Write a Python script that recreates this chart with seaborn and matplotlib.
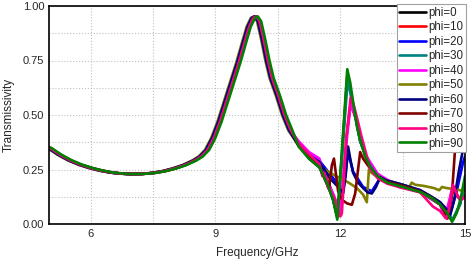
import numpy as np
import pandas as pd
import matplotlib
matplotlib.use("Agg")
import matplotlib.pyplot as plt
from matplotlib.ticker import MultipleLocator, FormatStrFormatter
import seaborn as sns

# Curvas de transmisividad para distintos angulos phi
phis = [0, 10, 20, 30, 40, 50, 60, 70, 80, 90]
colores = ["#000000", "#ff0000", "#0000ff", "#008080", "#ff00ff",
           "#808000", "#000080", "#800000", "#ff0080", "#008000"]

# tramo comun (5 - 10.8 GHz), todas las curvas casi iguales
freq_main = [5.0, 5.25, 5.5, 5.75, 6.0, 6.25, 6.5, 6.75, 7.0, 7.25, 7.5, 7.75,
             8.0, 8.25, 8.5, 8.65, 8.8, 8.95, 9.1, 9.25, 9.4, 9.55, 9.7, 9.8,
             9.9, 9.97, 10.05, 10.15, 10.25, 10.35, 10.5, 10.65, 10.8]
trans_main = [0.350, 0.318, 0.292, 0.272, 0.257, 0.245, 0.236, 0.231, 0.229,
              0.230, 0.234, 0.242, 0.254, 0.270, 0.292, 0.310, 0.340, 0.395,
              0.470, 0.560, 0.650, 0.740, 0.840, 0.905, 0.945, 0.952, 0.930,
              0.845, 0.750, 0.670, 0.590, 0.500, 0.430]
# desplazamiento del pico (GHz)
peak_offset = [0.0, 0.02, -0.02, 0.01, 0.0, -0.05, -0.03, 0.02, 0.01, 0.05]

# tramo de resonancias (>= 11 GHz), una lista por curva
freq_tail_0 = [11.0, 11.25, 11.5, 11.7, 11.83, 11.93, 12.05, 12.17, 12.31, 12.48, 12.72, 13.13, 13.92, 14.4, 14.6, 14.71, 14.88, 15.0]
trans_tail_0 = [0.36, 0.30, 0.26, 0.18, 0.11, 0.03, 0.34, 0.68, 0.55, 0.38, 0.26, 0.19, 0.147, 0.09, 0.04, 0.02, 0.09, 0.2]
freq_tail_10 = [11.0, 11.25, 11.5, 11.7, 11.9, 12.02, 12.15, 12.25, 12.4, 12.6, 12.9, 13.5, 13.92, 14.4, 14.55, 14.7, 14.85, 15.0]
trans_tail_10 = [0.37, 0.32, 0.28, 0.20, 0.10, 0.04, 0.40, 0.55, 0.47, 0.31, 0.22, 0.17, 0.15, 0.09, 0.03, 0.15, 0.12, 0.13]
freq_tail_20 = [11.0, 11.25, 11.5, 11.75, 12.0, 12.07, 12.19, 12.31, 12.55, 12.76, 12.96, 13.5, 13.92, 14.4, 14.64, 14.8, 14.95, 15.0]
trans_tail_20 = [0.37, 0.32, 0.29, 0.23, 0.17, 0.15, 0.33, 0.24, 0.17, 0.15, 0.21, 0.18, 0.155, 0.10, 0.04, 0.15, 0.28, 0.31]
freq_tail_30 = [11.0, 11.25, 11.5, 11.7, 11.85, 11.95, 12.07, 12.18, 12.31, 12.48, 12.72, 13.13, 13.92, 14.4, 14.6, 14.7, 14.88, 15.0]
trans_tail_30 = [0.36, 0.31, 0.27, 0.19, 0.12, 0.04, 0.38, 0.66, 0.54, 0.38, 0.26, 0.19, 0.15, 0.09, 0.04, 0.02, 0.09, 0.18]
freq_tail_40 = [11.0, 11.25, 11.5, 11.6, 11.7, 11.85, 12.0, 12.12, 12.25, 12.4, 12.6, 12.9, 13.44, 13.92, 14.4, 14.52, 14.7, 14.88, 15.0]
trans_tail_40 = [0.38, 0.33, 0.30, 0.24, 0.19, 0.13, 0.05, 0.32, 0.55, 0.48, 0.32, 0.23, 0.168, 0.155, 0.09, 0.03, 0.17, 0.11, 0.12]
freq_tail_50 = [11.0, 11.25, 11.5, 11.75, 12.0, 12.2, 12.4, 12.55, 12.64, 12.69, 12.75, 12.9, 13.1, 13.4, 13.66, 13.72, 13.8, 14.0, 14.25, 14.38, 14.45, 14.55, 14.75, 15.0]
trans_tail_50 = [0.36, 0.31, 0.265, 0.235, 0.21, 0.19, 0.165, 0.135, 0.10, 0.25, 0.235, 0.215, 0.20, 0.185, 0.17, 0.19, 0.18, 0.175, 0.165, 0.155, 0.17, 0.165, 0.16, 0.15]
freq_tail_60 = [11.0, 11.25, 11.5, 11.75, 12.0, 12.07, 12.13, 12.19, 12.25, 12.31, 12.43, 12.55, 12.66, 12.76, 12.86, 12.96, 13.1, 13.5, 13.92, 14.2, 14.4, 14.55, 14.64, 14.75, 14.85, 14.95, 15.0]
trans_tail_60 = [0.36, 0.31, 0.285, 0.21, 0.16, 0.14, 0.22, 0.355, 0.29, 0.235, 0.19, 0.165, 0.145, 0.14, 0.17, 0.215, 0.20, 0.18, 0.155, 0.125, 0.10, 0.07, 0.04, 0.12, 0.24, 0.34, 0.40]
freq_tail_70 = [11.0, 11.25, 11.5, 11.62, 11.73, 11.8, 11.85, 11.95, 12.05, 12.16, 12.28, 12.36, 12.48, 12.55, 12.7, 12.84, 13.0, 13.5, 13.92, 14.2, 14.4, 14.5, 14.58, 14.68, 14.76, 14.85, 14.95, 15.0]
trans_tail_70 = [0.36, 0.31, 0.27, 0.21, 0.16, 0.27, 0.30, 0.15, 0.11, 0.095, 0.088, 0.14, 0.33, 0.30, 0.26, 0.23, 0.20, 0.175, 0.15, 0.12, 0.09, 0.06, 0.025, 0.12, 0.34, 0.55, 0.75, 0.80]
freq_tail_80 = [11.0, 11.25, 11.5, 11.57, 11.62, 11.7, 11.85, 12.0, 12.04, 12.15, 12.25, 12.32, 12.4, 12.5, 12.72, 12.9, 13.13, 13.5, 13.92, 14.23, 14.4, 14.55, 14.63, 14.71, 14.8, 14.88, 15.0]
trans_tail_80 = [0.37, 0.32, 0.275, 0.22, 0.235, 0.17, 0.12, 0.035, 0.05, 0.40, 0.58, 0.55, 0.49, 0.41, 0.255, 0.21, 0.185, 0.165, 0.145, 0.08, 0.06, 0.025, 0.08, 0.18, 0.14, 0.11, 0.125]
freq_tail_90 = [11.0, 11.25, 11.5, 11.7, 11.83, 11.93, 12.05, 12.17, 12.24, 12.31, 12.4, 12.48, 12.6, 12.72, 12.9, 13.13, 13.5, 13.92, 14.2, 14.4, 14.57, 14.69, 14.8, 14.9, 15.0]
trans_tail_90 = [0.355, 0.30, 0.26, 0.18, 0.11, 0.02, 0.36, 0.71, 0.65, 0.56, 0.45, 0.385, 0.31, 0.265, 0.22, 0.19, 0.17, 0.147, 0.12, 0.09, 0.05, 0.01, 0.05, 0.12, 0.22]

freq_tails = [freq_tail_0, freq_tail_10, freq_tail_20, freq_tail_30, freq_tail_40,
              freq_tail_50, freq_tail_60, freq_tail_70, freq_tail_80, freq_tail_90]
trans_tails = [trans_tail_0, trans_tail_10, trans_tail_20, trans_tail_30, trans_tail_40,
               trans_tail_50, trans_tail_60, trans_tail_70, trans_tail_80, trans_tail_90]

filas = []
for phi, off, ft, tt in zip(phis, peak_offset, freq_tails, trans_tails):
    f = list(np.array(freq_main) + off) + ft
    t = trans_main + tt
    for fi, ti in zip(f, t):
        filas.append({"freq": fi, "trans": ti, "label": f"phi={phi}"})
df = pd.DataFrame(filas)

sns.set_style("white")
plt.rcParams["font.family"] = ["Liberation Sans", "DejaVu Sans"]

fig = plt.figure(figsize=(4.72, 2.59), dpi=100)
ax = fig.add_axes([49 / 472, 1 - 224 / 259, 416 / 472, 218 / 259])

sns.lineplot(data=df, x="freq", y="trans", hue="label", palette=colores,
             sort=False, estimator=None, lw=1.9, ax=ax, legend=False)

ax.set_xlim(5, 15)
ax.set_ylim(0, 1)
ax.xaxis.set_major_locator(MultipleLocator(3))
ax.xaxis.set_minor_locator(MultipleLocator(1.5))
ax.yaxis.set_major_locator(MultipleLocator(0.25))
ax.yaxis.set_minor_locator(MultipleLocator(0.125))
ax.yaxis.set_major_formatter(FormatStrFormatter("%.2f"))
ax.grid(which="both", ls=":", color="#c0c0c0", lw=0.8)
ax.tick_params(which="both", direction="in", labelsize=8, color="black")
ax.tick_params(which="major", length=3.5, width=1)
ax.tick_params(which="minor", length=2, width=1)
for s in ax.spines.values():
    s.set_linewidth(1.2)
    s.set_color("black")

ax.set_xlabel("Frequency/GHz", fontsize=8.5, labelpad=6)
ax.set_ylabel("Transmissivity", fontsize=8.5, labelpad=6)

handles = [plt.Line2D([], [], color=c, lw=1.9) for c in colores]
leg = ax.legend(handles, [f"phi={p}" for p in phis], loc="upper right",
                bbox_to_anchor=(1.003, 1.01), borderaxespad=0, fontsize=8.3,
                frameon=True, fancybox=False, framealpha=1, edgecolor="#a0a0a0",
                handlelength=2.3, handletextpad=0.2, labelspacing=0.22,
                borderpad=0.25)
leg.get_frame().set_linewidth(0.8)

fig.savefig("out.png", dpi=100)
